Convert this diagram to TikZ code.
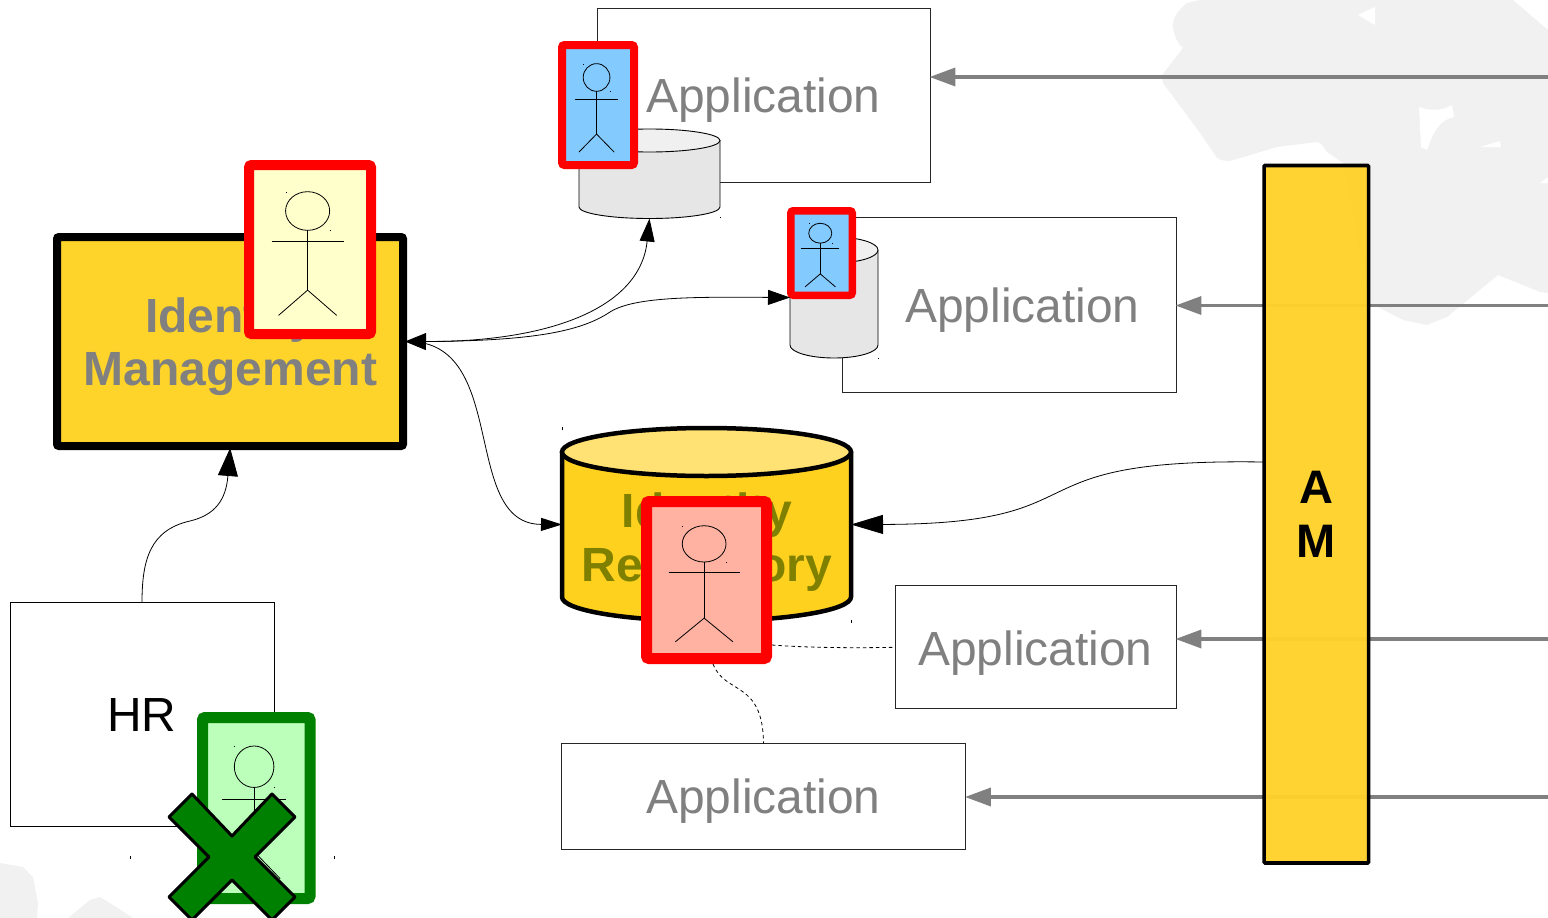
\documentclass[tikz,border=0pt]{standalone}
\usepackage{fontspec}
\setmainfont{Liberation Sans}
\usetikzlibrary{arrows.meta,calc}
\definecolor{blob}{HTML}{F1F1F1}
\definecolor{amyel}{HTML}{FFD22A}
\definecolor{imyel}{HTML}{FFD42A}
\definecolor{repoyel}{HTML}{FFD11F}
\definecolor{repotop}{HTML}{FFE273}
\definecolor{cylgray}{HTML}{E6E6E6}
\definecolor{cyltop}{HTML}{F0F0F0}
\definecolor{txtgray}{HTML}{808080}
\definecolor{olivetxt}{HTML}{808000}
\definecolor{actyellow}{HTML}{FFFFCC}
\definecolor{actblue}{HTML}{83CAFF}
\definecolor{actsalmon}{HTML}{FFB2A2}
\definecolor{actgreen}{HTML}{BBFFBB}
\definecolor{darkgreen}{HTML}{008000}
\tikzset{
  bigfont/.style={font=\fontsize{47.9}{53}\selectfont},
  boldfont/.style={font=\fontsize{48}{53}\selectfont\bfseries},
  appbox/.style={draw=black!85,line width=0.9pt,fill=white,inner sep=0pt,bigfont,text=txtgray,text height=44pt,text depth=10pt},
  hrbox/.style={appbox,text=black,draw=black},
  inbound/.style={draw=txtgray,line width=3.6pt,shorten >=-1pt,-{Triangle[length=26pt,width=18pt]}},
  link/.style={draw=black,line width=0.8pt},
  dashlink/.style={draw=black,line width=0.8pt,dash pattern=on 3.5pt off 3pt},
  speck/.style={fill=black},
  blobfill/.style={fill=blob,draw=none},
  holefill/.style={fill=white,draw=none},
  figure/.style={draw=black,line width=0.8pt},
}
% name, x0,y0,x1,y1 (outer extent), border width, fill, border colour
\newcommand{\actorbox}[8]{%
  \pgfmathsetmacro{\aw}{#4-#2}\pgfmathsetmacro{\ah}{#5-#3}%
  \pgfmathsetmacro{\acx}{(#2+#4)/2}\pgfmathsetmacro{\acy}{(#3+#5)/2}%
  \pgfmathsetmacro{\amw}{\aw-#6}\pgfmathsetmacro{\amh}{\ah-#6}%
  \node[draw=#8,fill=#7,line width=#6pt,rounded corners=2.5pt,inner sep=0pt,minimum width=\amw pt,minimum height=\amh pt] (#1) at (\acx,\acy) {};
  \pgfmathsetmacro{\fx}{\acx-0.018*\aw}%
  \pgfmathsetmacro{\hy}{#3+0.285*\ah}\pgfmathsetmacro{\hrx}{0.167*\aw}\pgfmathsetmacro{\hry}{0.108*\ah}%
  \pgfmathsetmacro{\ny}{\hy+\hry}\pgfmathsetmacro{\ay}{#3+0.453*\ah}\pgfmathsetmacro{\ahw}{0.272*\aw}%
  \pgfmathsetmacro{\by}{#3+0.727*\ah}\pgfmathsetmacro{\ly}{#3+0.868*\ah}\pgfmathsetmacro{\lhw}{0.22*\aw}%
  \pgfmathsetmacro{\xa}{\fx-\ahw}\pgfmathsetmacro{\xb}{\fx+\ahw}\pgfmathsetmacro{\xc}{\fx-\lhw}\pgfmathsetmacro{\xd}{\fx+\lhw}%
  \pgfmathsetmacro{\sxa}{\fx-\hrx}\pgfmathsetmacro{\sxb}{\fx+\hrx}\pgfmathsetmacro{\sya}{\hy-\hry}%
  \draw[figure] (\fx,\hy) ellipse [x radius=\hrx,y radius=\hry];
  \draw[figure] (\fx,\ny) -- (\fx,\by);
  \draw[figure] (\xa,\ay) -- (\xb,\ay);
  \draw[figure] (\xc,\ly) -- (\fx,\by) -- (\xd,\ly);
  \fill[speck] (\sxa,\sya) rectangle ++(0.8,0.8);
  \fill[speck] (\sxb,\ny) rectangle ++(0.8,0.8);
}
% name, cx, top centre y, bottom centre y, rx, ry, body, top, line width
\newcommand{\cylinder}[9]{%
  \pgfmathsetmacro{\cxa}{#2-#5}\pgfmathsetmacro{\cxb}{#2+#5}%
  \pgfmathsetmacro{\cmw}{2*#5}\pgfmathsetmacro{\cmh}{#4-#3+2*#6}\pgfmathsetmacro{\ccy}{(#3+#4)/2}%
  \node[inner sep=0pt,outer sep=0pt,minimum width=\cmw pt,minimum height=\cmh pt] (#1) at (#2,\ccy) {};
  \draw[fill=#7,line width=#9pt,line join=round] (\cxa,#3) -- (\cxa,#4) arc[start angle=180,end angle=0,x radius=#5,y radius=#6] -- (\cxb,#3) -- cycle;
  \draw[fill=#8,line width=#9pt] (#2,#3) ellipse [x radius=#5,y radius=#6];
}
\begin{document}
\begin{tikzpicture}[x=1pt,y=-1pt]
\useasboundingbox (0,0) rectangle (1548,918);
% background map
\fill[blobfill] (1200,0) -- (1187,3) .. controls (1176,12) and (1172,20) .. (1173,27) .. controls (1174,36) and (1178,44) .. (1183,48) -- (1162,75) -- (1163,83) -- (1200,133) -- (1217,158) .. controls (1222,161) and (1226,161) .. (1230,161) -- (1277,147) -- (1317,142) .. controls (1322,143) and (1324,148) .. (1327,152) -- (1343,163) -- (1370,303) -- (1403,320) -- (1427,325) -- (1447,317) -- (1498,275) -- (1540,292) -- (1548,293) -- (1548,30) -- (1513,0) -- cycle;
\fill[holefill] (1358,15) -- (1375,7) -- (1375,25) -- cycle;
\fill[holefill] (1419,107) .. controls (1430,111) and (1442,111) .. (1452,105) -- (1454,117) .. controls (1440,120) and (1434,130) .. (1427,150) -- (1421,147) -- cycle;
\fill[holefill] (1480,147) -- (1500,141) -- (1501,147) -- cycle;
\fill[holefill] (1540,183) -- (1548,177) -- (1548,183) -- cycle;
\fill[blobfill] (0,863) -- (23,867) -- (33,877) -- (38,903) -- (37,918) -- (0,918) -- cycle;
\fill[blobfill] (68,918) -- (90,900) -- (100,897) -- (113,905) -- (133,918) -- cycle;
% boxes
\node[appbox,minimum width=333pt,minimum height=174pt] (app1) at (763.5,95.8) {Application};
\node[appbox,minimum width=334pt,minimum height=175pt] (app2) at (1009,305.3) {\hspace*{27pt}Application};
\node[appbox,minimum width=281pt,minimum height=123pt,text height=46pt] (app3) at (1035.5,647.3) {Application};
\node[appbox,minimum width=404pt,minimum height=106pt] (app4) at (763.5,796.8) {Application};
\node[hrbox,minimum width=264pt,minimum height=224pt] (hr) at (142,714.8) {HR};
% free ends
\coordinate (r1) at (1548,77);
\coordinate (r2) at (1548,305.5);
\coordinate (r3) at (1548,639);
\coordinate (r4) at (1548,797);
\coordinate (amleft) at (1263,462);
\coordinate (actright) at (772,645);
% inbound access lines
\draw[inbound] (r1) -- (r1 -| app1.east);
\draw[inbound] (r2) -- (r2 -| app2.east);
\draw[inbound] (r3) -- (r3 -| app3.east);
\draw[inbound] (r4) -- (r4 -| app4.east);
% AM bar
\node[draw=black,line width=3.6pt,fill=amyel,fill opacity=0.96,text opacity=1,inner sep=0pt,minimum width=104.5pt,minimum height=697.5pt,align=center,font=\fontsize{47}{53.5}\selectfont\bfseries,rounded corners=1pt] (am) at (1316.3,514.2) {A\\M};
% identity management
\node[draw=black,fill=imyel,line width=8pt,rounded corners=2pt,inner sep=0pt,minimum width=346pt,minimum height=209pt] (im) at (230,341.5) {};
\node[boldfont,text=txtgray,align=center,inner sep=0pt] (imlabel) at (230.5,346.5) {Identity\\Management};
% cylinders
\cylinder{db1}{649.5}{140.5}{207}{70.5}{11.5}{cylgray}{cyltop}{0.9}
\cylinder{db2}{834}{250}{345}{44}{13}{cylgray}{cyltop}{0.9}
\cylinder{repo}{706.5}{452}{597}{144.5}{24}{repoyel}{repotop}{4.5}
\node[boldfont,text=olivetxt,align=center,inner sep=0pt,font=\fontsize{48}{54}\selectfont\bfseries] (repolabel) at (707,542) {Identity\\Repository};
% dashed links
\draw[dashlink] (actright) .. controls (810,648) and (860,648) .. (app3.west);
\coordinate (actbottom) at (713,664);
\draw[dashlink] (actbottom) .. controls (725,695) and (763,680) .. (app4.north);
% actors
\actorbox{a1}{558}{41}{638}{169}{8}{actblue}{red}
\actorbox{a2}{787}{207}{856}{299}{7.5}{actblue}{red}
\actorbox{a3}{641}{496}{772}{664}{11}{actsalmon}{red}
\actorbox{a4}{244}{160}{376}{339}{10}{actyellow}{red}
\actorbox{a5}{197}{712}{315.5}{904}{11}{actgreen}{darkgreen}
% connectors
\draw[link,shorten <=-2pt,{Triangle[length=21pt,width=17pt]}-{Triangle[length=23pt,width=15pt]}] (im.east) .. controls (545,342) and (640,310) .. (db1.south);
\draw[link,-{Triangle[length=22pt,width=15pt]}] (im.east) .. controls (530,342) and (580,332) .. (610,312) .. controls (635,296) and (700,297) .. (db2.west);
\draw[link,-{Triangle[length=21pt,width=13pt]}] (im.east) .. controls (510,340) and (460,524) .. (repo.west);
\draw[link,-{Triangle[length=32pt,width=19pt]}] (amleft) .. controls (1000,458) and (1110,524) .. (repo.east);
\draw[link,shorten >=-2pt,-{Triangle[length=28pt,width=20pt]}] (hr.north) .. controls (142,560) and (150,530) .. (190,521) .. controls (215,515) and (226,500) .. (im.south);
% rejection mark
\filldraw[fill=darkgreen,draw=black,line width=3pt,line join=round] (232,836) -- (272,794) -- (295,817) -- (255,857) -- (295,897) -- (272,920) -- (232,880) -- (192,920) -- (169,897) -- (209,857) -- (169,817) -- (192,794) -- cycle;
% tiny handles
\fill[speck] (130,855.5) rectangle ++(1,3);
\fill[speck] (334,855.5) rectangle ++(1,3);
\fill[speck] (562,426.5) rectangle ++(1,3);
\fill[speck] (851,619.5) rectangle ++(1,3);
\fill[speck] (720,217) rectangle ++(1,1);
\fill[speck] (878,358) rectangle ++(1,1);
\end{tikzpicture}
\end{document}
